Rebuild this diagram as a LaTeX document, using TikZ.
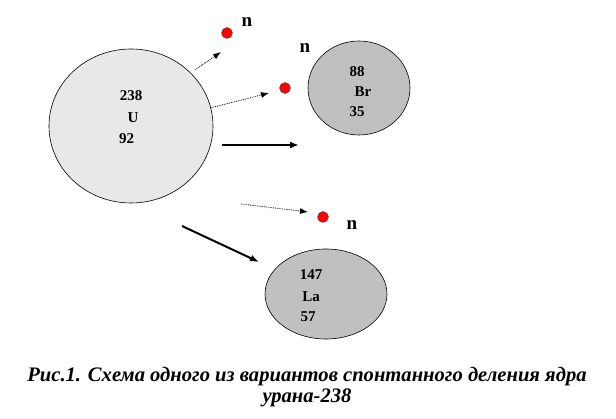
\documentclass[tikz,border=0pt]{standalone}
\usepackage{fontspec}
\setmainfont{Liberation Serif}
\usetikzlibrary{arrows.meta}
\definecolor{ugray}{HTML}{E8E8E8}
\definecolor{fgray}{HTML}{C0C0C0}
\tikzset{
  nucleus/.style={draw=black, line width=0.6pt, ellipse},
  lbl/.style={font=\fontsize{15}{15}\selectfont\bfseries, inner sep=0pt},
  ntext/.style={font=\fontsize{19}{19}\selectfont\bfseries, inner sep=0pt},
  neutron/.style={circle, fill=red, draw=black!70, line width=0.4pt, minimum size=11pt, inner sep=0pt},
  thinarrow/.style={densely dotted, line width=0.8pt, -{Latex[length=8pt,width=6pt]}},
  thickarrow/.style={line width=2pt, -{Latex[length=9pt,width=7pt]}},
}
\usetikzlibrary{shapes.geometric}
\begin{document}
\begin{tikzpicture}[x=1pt,y=-1pt]
\useasboundingbox (0,0) rectangle (616,419);
% nuclei
\node[nucleus, fill=ugray, minimum width=164pt, minimum height=154pt] (U) at (131,126) {};
\node[nucleus, fill=fgray, minimum width=102pt, minimum height=94pt] (Br) at (359,88) {};
\node[nucleus, fill=fgray, minimum width=122pt, minimum height=90pt] (La) at (326,294) {};
% labels
\node[lbl] (u1) at (131,96) {238};
\node[lbl] (u2) at (133,118) {U};
\node[lbl, anchor=west] (u3) at (119,139) {92};
\node[lbl] (b1) at (357,72) {88};
\node[lbl] (b2) at (363,92) {Br};
\node[lbl] (b3) at (357,112) {35};
\node[lbl] (l1) at (311,275) {147};
\node[lbl] (l2) at (311,297) {La};
\node[lbl] (l3) at (308,317) {57};
% neutrons
\node[neutron] (n1) at (227,33) {};
\node[neutron] (n2) at (285,88) {};
\node[neutron] (n3) at (323,217) {};
\node[ntext] (t1) at (247,22) {n};
\node[ntext] (t2) at (305,48) {n};
\node[ntext] (t3) at (352,225) {n};
% arrows
\coordinate (a1s) at (195,70); \coordinate (a1e) at (221,52);
\coordinate (a2s) at (210,108); \coordinate (a2e) at (269,93);
\coordinate (a3s) at (222,145); \coordinate (a3e) at (299,145);
\coordinate (a4s) at (241,204); \coordinate (a4e) at (308,212);
\coordinate (a5s) at (182,226); \coordinate (a5e) at (259,262);
\draw[thinarrow] (a1s) -- (a1e);
\draw[thinarrow] (a2s) -- (a2e);
\draw[thickarrow] (a3s) -- (a3e);
\draw[thinarrow] (a4s) -- (a4e);
\draw[thickarrow] (a5s) -- (a5e);
% caption
\node[font=\fontsize{20.6}{21}\selectfont\bfseries\itshape, align=center] (cap) at (307,387) {Рис.1. Схема одного из вариантов спонтанного деления ядра\\урана-238};
\end{tikzpicture}
\end{document}
